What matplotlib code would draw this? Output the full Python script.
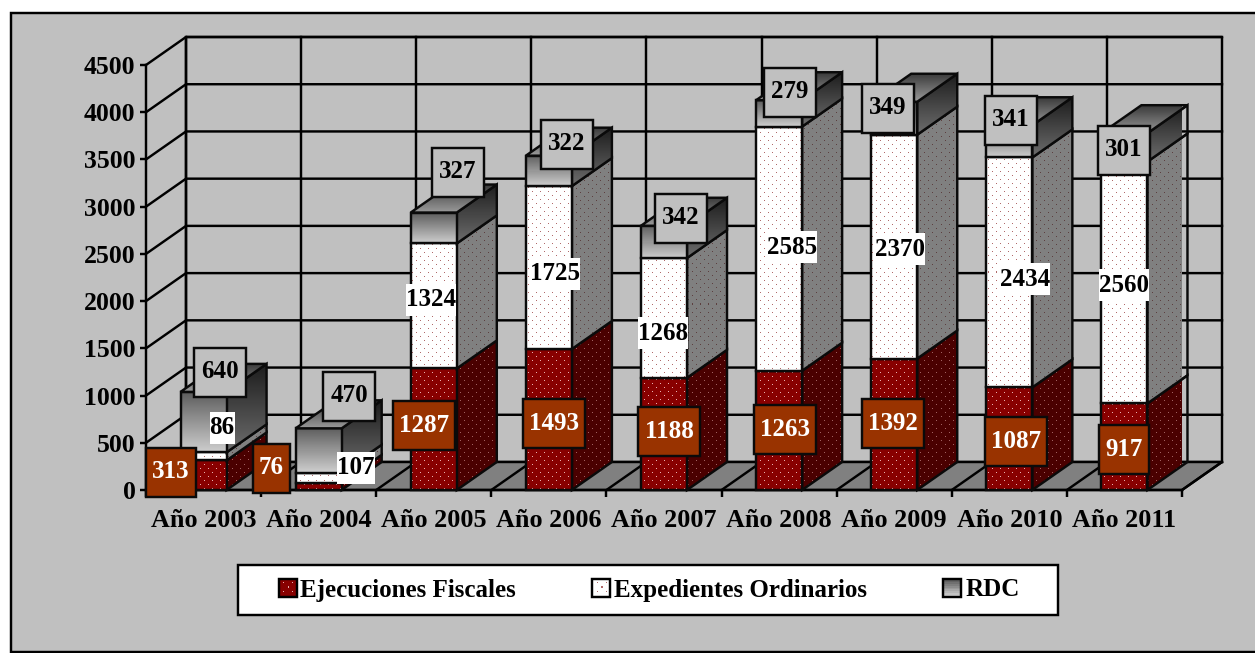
import numpy as np
import matplotlib
matplotlib.use("Agg")
import matplotlib.pyplot as plt
from matplotlib.patches import Polygon, Rectangle
from matplotlib.legend_handler import HandlerBase
from matplotlib.transforms import Affine2D

plt.rcParams['font.family'] = ['Liberation Serif', 'DejaVu Serif']
plt.rcParams['font.weight'] = 'bold'

# data
years = ['Año 2003', 'Año 2004', 'Año 2005', 'Año 2006', 'Año 2007',
         'Año 2008', 'Año 2009', 'Año 2010', 'Año 2011']
ejecuciones = [313, 76, 1287, 1493, 1188, 1263, 1392, 1087, 917]
expedientes = [86, 107, 1324, 1725, 1268, 2585, 2370, 2434, 2560]
rdc = [640, 470, 327, 322, 342, 279, 349, 341, 301]
y_ticks = [0, 500, 1000, 1500, 2000, 2500, 3000, 3500, 4000, 4500]
series_names = ['Ejecuciones Fiscales', 'Expedientes Ordinarios', 'RDC']

# where the value boxes sit, in image pixels
ejec_label_px = [(171, 472), (271, 468), (424, 425), (554, 423), (669, 431),
                 (785, 429), (893, 423), (1016, 441), (1124, 449)]
exp_label_px = [(222, 428), (356, 468), (431, 300), (555, 274), (663, 333),
                (792, 247), (900, 249), (1025, 279), (1124, 285)]
rdc_label_px = [(220, 372), (349, 396), (458, 172), (567, 144), (681, 218),
                (790, 92), (888, 108), (1011, 120), (1124, 150)]

W, H = 1255, 653
LEFT, RIGHT, TOP, BOTTOM = 146, 1182, 65, 490
BAR_W = 0.4
DEPTH_PX = (40, 28)
LW = 1.75

fig = plt.figure(figsize=(W / 100, H / 100), dpi=100, facecolor='white')
ax = fig.add_axes([LEFT / W, (H - BOTTOM) / H, (RIGHT - LEFT) / W, (BOTTOM - TOP) / H])
ax.patch.set_visible(False)
ax.set_xlim(0, len(years))
ax.set_ylim(0, 4500)
ax.autoscale(False)

# image pixels, y going down
PX = Affine2D().scale(1, -1).translate(0, H)
DX = DEPTH_PX[0] / ((RIGHT - LEFT) / len(years))
DY = DEPTH_PX[1] / ((BOTTOM - TOP) / 4500)

fig.add_artist(Rectangle((11, 13), 1250, 639, transform=PX, fc='#C0C0C0', ec='black', lw=LW, zorder=-5))


def to_px(pts):
    return ax.transData.transform(pts)


def to_data(pts):
    return ax.transData.inverted().transform(pts)


def dots(xs, ys):
    return ((xs % 8 == 0) & (ys % 8 == 0)) | ((xs % 8 == 4) & (ys % 8 == 4))


def face(verts, z, base=None, dot=None, grad=None):
    # polygon filled with a pixel texture (dotted) or a vertical gradient
    pts = to_px(verts)
    x0, y0 = np.floor(pts.min(axis=0)).astype(int)
    x1, y1 = np.ceil(pts.max(axis=0)).astype(int)
    xs, ys = np.meshgrid(np.arange(x0, x1), np.arange(y1 - 1, y0 - 1, -1))
    if grad is not None:
        c0 = np.array(matplotlib.colors.to_rgb(grad[0]))
        c1 = np.array(matplotlib.colors.to_rgb(grad[1]))
        t = np.linspace(0, 1, max(y1 - y0, 1))[:, None, None]
        img = np.broadcast_to(c0 + (c1 - c0) * t, (y1 - y0, x1 - x0, 3))
    else:
        img = np.ones((y1 - y0, x1 - x0, 3)) * matplotlib.colors.to_rgb(base)
        img[dots(xs, ys)] = matplotlib.colors.to_rgb(dot)
    (ex0, ey0), (ex1, ey1) = to_data([(x0, y0), (x1, y1)])
    poly = Polygon(verts, closed=True, fc='none', ec='#0a0a0a', lw=LW, zorder=z + 0.01, clip_on=False, joinstyle='miter')
    ax.add_patch(poly)
    im = ax.imshow(img, extent=(ex0, ex1, ey0, ey1), aspect='auto', interpolation='nearest', zorder=z)
    im.set_clip_path(Polygon(verts, closed=True, transform=ax.transData))


# back wall, left wall and floor
n = len(years)
ax.plot([DX, DX, n + DX, n + DX], [DY, 4500 + DY, 4500 + DY, DY], color='black', lw=LW, zorder=1, clip_on=False)
for v in y_ticks:
    ax.plot([0, DX, n + DX], [v, v + DY, v + DY], color='black', lw=LW, zorder=1, clip_on=False)
for k in range(n):
    ax.plot([k + DX, k + DX], [DY, 4500 + DY], color='black', lw=LW, zorder=1, clip_on=False)
ax.add_patch(Polygon([(0, 0), (n, 0), (n + DX, DY), (DX, DY)], fc='#808080', ec='black', lw=LW, zorder=1.5, clip_on=False))
for k in range(n + 1):
    ax.plot([k, k + DX], [0, DY], color='black', lw=LW, zorder=1.6, clip_on=False)

# bars, drawn left to right
styles = [
    dict(front=dict(base='#880000', dot='#e8b0b0'), side=dict(base='#4a0000', dot='#a06060')),
    dict(front=dict(base='#ffffff', dot='#b06a6a'), side=dict(base='#808080', dot='#5c4040')),
    dict(front=dict(grad=('#5c5c5c', '#cfcfcf')), side=dict(grad=('#1c1c1c', '#6e6e6e'))),
]
for i in range(n):
    x0 = i + 0.5 - BAR_W / 2
    x1 = x0 + BAR_W
    z = 3 + i
    bottom = 0
    for vals, st in zip([ejecuciones, expedientes, rdc], styles):
        top = bottom + vals[i]
        face([(x1, bottom), (x1 + DX, bottom + DY), (x1 + DX, top + DY), (x1, top)], z, **st['side'])
        z += 0.05
        face([(x0, bottom), (x1, bottom), (x1, top), (x0, top)], z, **st['front'])
        z += 0.05
        bottom = top
    face([(x0, bottom), (x1, bottom), (x1 + DX, bottom + DY), (x0 + DX, bottom + DY)], z, grad=('#3a3a3a', '#9a9a9a'))


def value_box(pos, text, w, h, fc, ec, color):
    ax.add_patch(Rectangle((pos[0] - w / 2, pos[1] - h / 2), w, h, transform=PX, fc=fc, ec=ec, lw=LW, zorder=30, clip_on=False))
    ax.text(pos[0], pos[1], text, transform=PX, ha='center', va='center', fontsize=18,
            fontweight='bold', color=color, zorder=31, clip_on=False)


for i in range(n):
    a, b, c = str(ejecuciones[i]), str(expedientes[i]), str(rdc[i])
    value_box(ejec_label_px[i], a, 12.5 * len(a) + 12, 49, '#993300', '#0a0a0a', 'white')
    value_box(exp_label_px[i], b, 12.5 * len(b), 32, 'white', 'none', 'black')
    value_box(rdc_label_px[i], c, 52, 49, '#C0C0C0', '#0a0a0a', 'black')

# axes
for s in ['top', 'right']:
    ax.spines[s].set_visible(False)
for s in ['left', 'bottom']:
    ax.spines[s].set_linewidth(LW)
ax.set_yticks(y_ticks)
ax.set_xticks(np.arange(n + 1))
ax.set_xticklabels([])
ax.set_xticks(np.arange(n) + 0.5, minor=True)
ax.set_xticklabels(years, minor=True, fontsize=18.8, fontweight='bold')
ax.tick_params(axis='x', which='major', length=5, width=LW, direction='out')
ax.tick_params(axis='x', which='minor', length=0, pad=14)
ax.tick_params(axis='y', length=4, width=LW, pad=3.5, labelsize=18.5)


class Swatch(HandlerBase):
    # legend key with the same fill as the bars
    def create_artists(self, legend, orig, xd, yd, width, height, fontsize, trans):
        out = []
        if orig.get_label() == 'RDC':
            for j in range(10):
                c = 0.33 + 0.055 * j
                out.append(Rectangle((0, height * (1 - (j + 1) / 10)), width, height / 10, fc=(c, c, c), ec='none', transform=trans))
        else:
            out.append(Rectangle((0, 0), width, height, fc=orig.get_facecolor(), ec='none', transform=trans))
            for fx, fy in [(.25, .25), (.75, .25), (.5, .5), (.25, .75), (.75, .75)]:
                out.append(Rectangle((width * fx, height * fy), 1, 1, fc=orig.get_edgecolor(), ec='none', transform=trans))
        out.append(Rectangle((0, 0), width, height, fc='none', ec='black', lw=LW, transform=trans))
        return out


handles = [Rectangle((0, 0), 1, 1, fc='#880000', ec='#e8b0b0', label=series_names[0]),
           Rectangle((0, 0), 1, 1, fc='white', ec='#b06a6a', label=series_names[1]),
           Rectangle((0, 0), 1, 1, fc='#808080', ec='black', label=series_names[2])]
ax.add_patch(Rectangle((238, 565), 820, 50, transform=PX, fc='white', ec='black', lw=LW, zorder=40, clip_on=False))
leg = ax.legend(handles=handles, ncols=3, frameon=False, loc='center', bbox_to_anchor=(649, 590), bbox_transform=PX,
                prop=dict(family='Liberation Serif', weight='bold', size=18), handler_map={Rectangle: Swatch()},
                handlelength=0.72, handleheight=0.72, handletextpad=0.15, columnspacing=3.05, borderpad=0)
leg.set_zorder(50)

fig.savefig('out.png', dpi=100)
